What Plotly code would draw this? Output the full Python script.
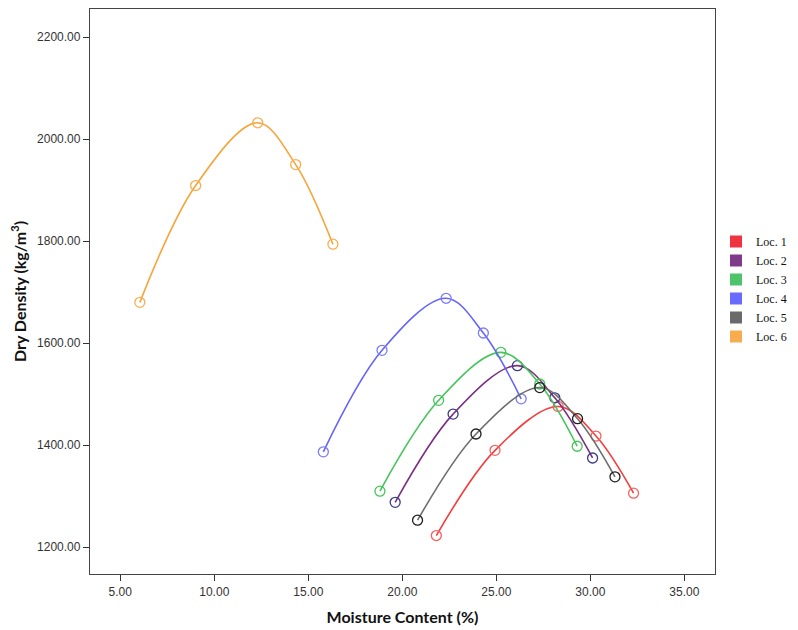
import plotly.graph_objects as go

series_names = ["Loc. 1", "Loc. 2", "Loc. 3", "Loc. 4", "Loc. 5", "Loc. 6"]

loc1_x = [21.81, 24.93, 28.29, 30.30, 32.30]
loc1_y = [1223, 1390, 1476, 1418, 1306]
loc2_x = [19.62, 22.70, 26.12, 28.11, 30.12]
loc2_y = [1288, 1461, 1556, 1493, 1375]
loc3_x = [18.81, 21.93, 25.24, 27.31, 29.30]
loc3_y = [1310, 1488, 1582, 1520, 1398]
loc4_x = [15.80, 18.92, 22.33, 24.31, 26.32]
loc4_y = [1387, 1586, 1688, 1620, 1491]
loc5_x = [20.81, 23.92, 27.31, 29.32, 31.31]
loc5_y = [1253, 1422, 1513, 1452, 1338]
loc6_x = [6.04, 9.01, 12.31, 14.33, 16.31]
loc6_y = [1680, 1909, 2032, 1950, 1794]

x_ticks = [5, 10, 15, 20, 25, 30, 35]
y_ticks = [1200, 1400, 1600, 1800, 2000, 2200]

xs = [loc1_x, loc2_x, loc3_x, loc4_x, loc5_x, loc6_x]
ys = [loc1_y, loc2_y, loc3_y, loc4_y, loc5_y, loc6_y]
line_colors = ["#f43c3c", "#7a2e84", "#48c45c", "#6464f8", "#6e6e6e", "#f7a43a"]
marker_colors = ["#f86060", "#3c3c86", "#48c45c", "#7c7cfa", "#1e1e1e", "#f7ae52"]
legend_colors = ["#ef3340", "#7e3b8a", "#4fc36a", "#6a6aff", "#6a6a6a", "#f8ac50"]

fig = go.Figure()
for i in range(6):
    fig.add_trace(go.Scatter(
        x=xs[i], y=ys[i], mode="lines", showlegend=False,
        line=dict(color=line_colors[i], width=1.6, shape="spline", smoothing=1.0),
        hoverinfo="skip"))
    fig.add_trace(go.Scatter(
        x=xs[i], y=ys[i], mode="markers", showlegend=False,
        marker=dict(symbol="circle-open", size=10, color=marker_colors[i],
                    line=dict(width=1.3, color=marker_colors[i]))))
# legend entries
for i in range(6):
    fig.add_trace(go.Scatter(
        x=[None], y=[None], mode="markers", name=series_names[i],
        marker=dict(symbol="square", size=11, color=legend_colors[i])))

# page body has an 8px margin, so the figure is drawn 8px smaller and shifted
W, H = 790, 622
L, R, T, B = 82, 0, 1, 56
pw = W - L - R
ph = H - T - B

fig.update_layout(
    width=W, height=H,
    paper_bgcolor="white", plot_bgcolor="white",
    margin=dict(l=L, r=R, t=T, b=B, autoexpand=False),
    font=dict(family="Liberation Sans, Arial", color="#222"),
    legend=dict(x=(708 - L) / pw, y=(H - B - 281) / ph, xanchor="left", yanchor="middle",
                font=dict(family="Liberation Serif, Times New Roman", size=12, color="#111"),
                tracegroupgap=0, itemsizing="constant", bgcolor="rgba(0,0,0,0)",
                borderwidth=0),
    xaxis=dict(
        domain=[0, (707 - L) / pw], automargin=False,
        range=[3.39, 36.63], tickvals=x_ticks, tickformat=".2f",
        ticks="outside", ticklen=6, tickwidth=1.3, tickcolor="#333",
        showline=True, linecolor="#444", linewidth=1.3, mirror=True,
        showgrid=False, zeroline=False,
        tickfont=dict(size=12, color="#333"),
        title=dict(text="<b>Moisture Content (%)</b>",
                   font=dict(family="Lato, Open Sans", size=16, color="#111"),
                   standoff=14)),
    yaxis=dict(
        automargin=False,
        range=[1147.6, 2255], tickvals=y_ticks, tickformat=".2f",
        ticks="outside", ticklen=6, tickwidth=1.3, tickcolor="#333",
        showline=True, linecolor="#444", linewidth=1.3, mirror=True,
        showgrid=False, zeroline=False,
        tickfont=dict(size=12, color="#333"),
        title=dict(text="<b>Dry Density (kg/m<sup>3</sup>)</b>",
                   font=dict(family="Lato, Open Sans", size=16, color="#111"),
                   standoff=8)),
)

fig.write_html("out.html")
